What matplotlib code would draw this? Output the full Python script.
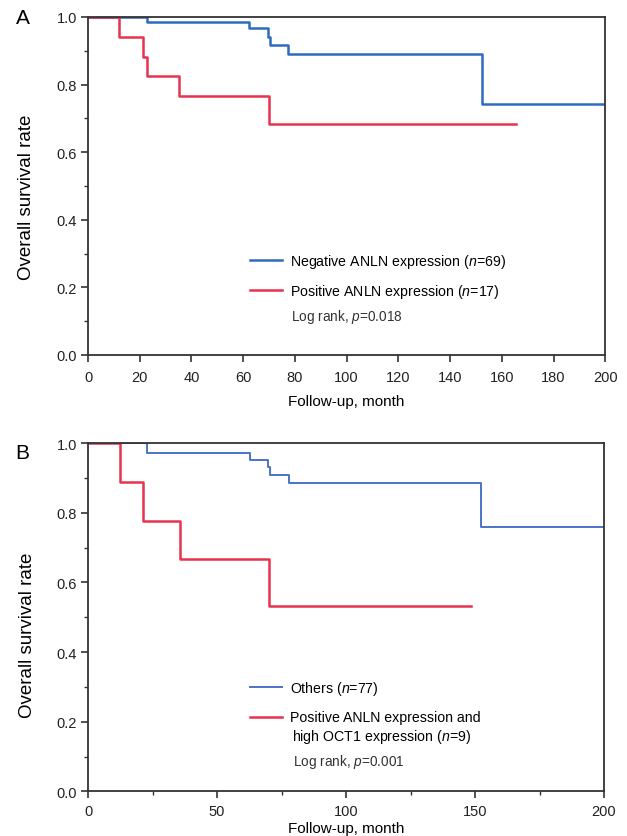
import matplotlib
matplotlib.use("Agg")
import matplotlib.pyplot as plt
from matplotlib.ticker import MultipleLocator

plt.rcParams["font.family"] = ["Liberation Sans", "DejaVu Sans"]
plt.rcParams["mathtext.fontset"] = "custom"
plt.rcParams["mathtext.rm"] = "Liberation Sans"
plt.rcParams["mathtext.it"] = "Liberation Sans:italic"

# Panel A: step curves (time in months, survival)
a_neg_t = [0, 22.7, 62.4, 69.5, 70.4, 77.5, 152.3, 200]
a_neg_s = [1.0, 0.986, 0.966, 0.942, 0.917, 0.891, 0.743, 0.743]
a_pos_t = [0, 12.0, 21.1, 22.7, 35.3, 70.0, 165.4]
a_pos_s = [1.0, 0.941, 0.882, 0.824, 0.765, 0.683, 0.683]

# Panel B
b_oth_t = [0, 22.9, 62.7, 69.8, 70.7, 77.7, 152.3, 200]
b_oth_s = [1.0, 0.972, 0.953, 0.931, 0.909, 0.885, 0.759, 0.759]
b_pos_t = [0, 12.4, 21.4, 35.6, 70.3, 148.3]
b_pos_s = [1.0, 0.889, 0.778, 0.667, 0.533, 0.533]

BLUE_A = "#2e6abd"
BLUE_B = "#4a74c9"
RED = "#e8334f"
SPINE = "#333333"
TICK_FS = 10.5
LEG_FS = 10.2


def style_axes(ax, xmajor, xminor, xpad, xlabelpad, ylab_y):
    ax.set_xlim(0, 200)
    ax.set_ylim(0, 1.0)
    ax.yaxis.set_major_locator(MultipleLocator(0.2))
    ax.yaxis.set_minor_locator(MultipleLocator(0.1))
    ax.xaxis.set_major_locator(MultipleLocator(xmajor))
    if xminor:
        ax.xaxis.set_minor_locator(MultipleLocator(xminor))
    ax.set_yticklabels([f"{v:.1f}" for v in ax.get_yticks()])
    for s in ax.spines.values():
        s.set_color(SPINE)
        s.set_linewidth(1.3)
    ax.tick_params(which="major", direction="out", length=5, width=1.2,
                   color=SPINE, labelsize=TICK_FS, labelcolor="#222222")
    ax.tick_params(axis="x", which="major", pad=xpad)
    ax.tick_params(axis="y", which="major", pad=3)
    ax.tick_params(which="minor", direction="out", length=3, width=1.0,
                   color=SPINE)
    ax.set_ylabel("Overall survival rate", fontsize=13.5, va="center")
    ax.yaxis.set_label_coords(-0.118, ylab_y)
    ax.set_xlabel("Follow-up, month", fontsize=11, labelpad=xlabelpad)


fig = plt.figure(figsize=(6.27, 8.37), dpi=100)
axA = fig.add_axes([0.1404, 0.5747, 0.825, 0.4038])
axB = fig.add_axes([0.1404, 0.0534, 0.823, 0.4158])

# Panel A
axA.step(a_neg_t, a_neg_s, where="post", color=BLUE_A, lw=1.8,
         label=r"Negative ANLN expression ($\it{n}$=69)")
axA.step(a_pos_t, a_pos_s, where="post", color=RED, lw=1.8,
         label=r"Positive ANLN expression ($\it{n}$=17)")
style_axes(axA, 20, None, 6, 7, 0.47)
axA.legend(loc="upper left", bbox_to_anchor=(0.302, 0.321), frameon=False,
           fontsize=LEG_FS, handlelength=2.3, handletextpad=0.56,
           labelspacing=0.83, borderaxespad=0)
axA.text(0.393, 0.115, r"Log rank, $\it{p}$=0.018", transform=axA.transAxes,
         fontsize=9.8, color="#333333", va="center")
fig.text(0.025, 0.978, "A", fontsize=15, va="center")

# Panel B
axB.step(b_oth_t, b_oth_s, where="post", color=BLUE_B, lw=1.4,
         label=r"Others ($\it{n}$=77)")
axB.step(b_pos_t, b_pos_s, where="post", color=RED, lw=1.8,
         label="Positive ANLN expression and")
style_axes(axB, 50, 25, 4, 2, 0.45)
axB.legend(loc="upper left", bbox_to_anchor=(0.302, 0.3385), frameon=False,
           fontsize=LEG_FS, handlelength=2.3, handletextpad=0.56,
           labelspacing=0.94, borderaxespad=0)
axB.text(0.395, 0.159, r"high OCT1 expression ($\it{n}$=9)", transform=axB.transAxes,
         fontsize=LEG_FS, va="center")
axB.text(0.397, 0.087, r"Log rank, $\it{p}$=0.001", transform=axB.transAxes,
         fontsize=9.8, color="#333333", va="center")
fig.text(0.025, 0.458, "B", fontsize=15, va="center")

fig.savefig("out.png", dpi=100)
